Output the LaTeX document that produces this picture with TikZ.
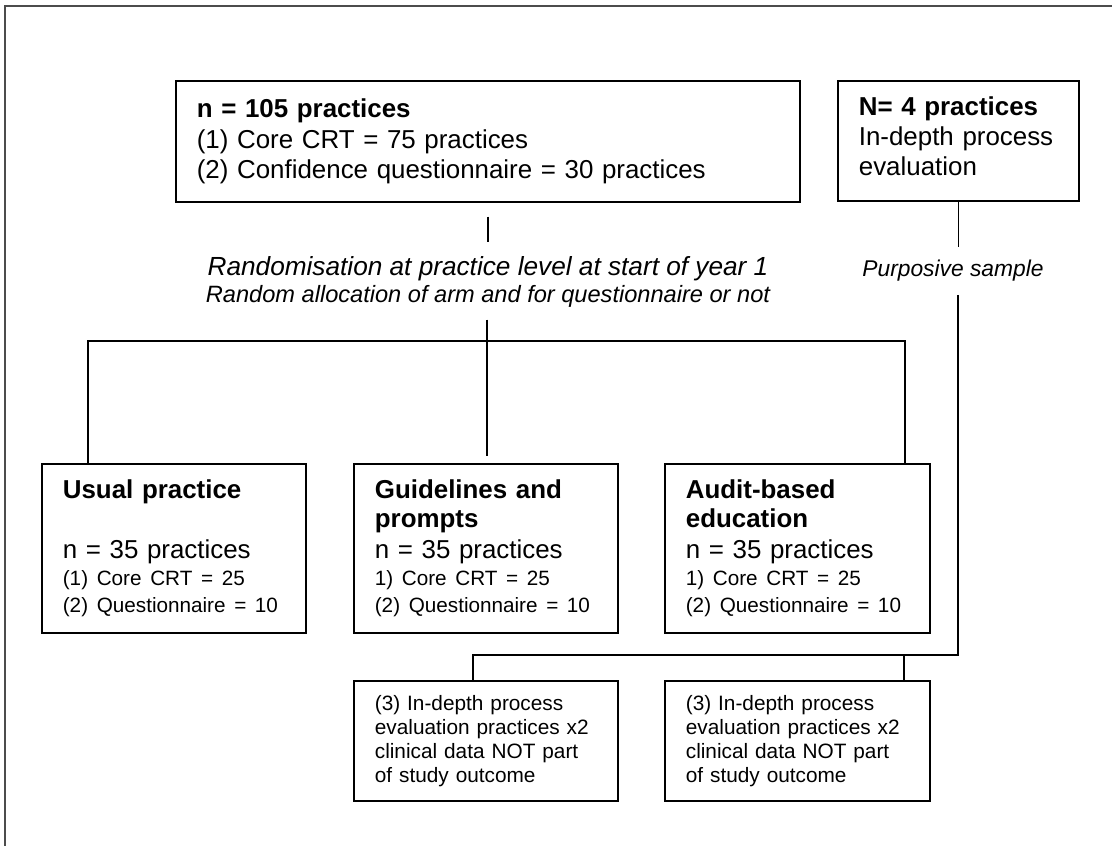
\documentclass[tikz,border=0pt]{standalone}
\usepackage{fontspec}
\setmainfont{Liberation Sans}
\newcommand{\bigtxt}{\fontsize{25.9}{30.5}\selectfont}
\newcommand{\armbig}{\fontsize{25.9}{27}\selectfont}
\newcommand{\armsmall}{\fontsize{20.7}{27}\selectfont}
\newcommand{\subtxt}{\fontsize{20.8}{24}\selectfont}
\tikzset{
  box/.style={draw, line width=1.7pt, align=left, inner xsep=21pt, inner ysep=0pt, anchor=north west},
  link/.style={line width=1.7pt}
}
\begin{document}
\begin{tikzpicture}[x=1pt,y=-1pt]
\useasboundingbox (0,0) rectangle (1112,846);
\draw[line width=2.4pt, black!70] (5,860) -- (5,6) -- (1120,6);
\node[box, text width=582pt, minimum height=121pt, font=\bigtxt] (allprac) at (175,80)
  {\textbf{n = 105 practices}\\(1) Core CRT = 75 practices\\(2) Confidence questionnaire = 30 practices};
\node[box, text width=199pt, minimum height=120pt, font=\fontsize{25.9}{30}\selectfont] (indepth) at (837,80)
  {\textbf{N= 4 practices}\\In-depth process\\evaluation\rule[-9pt]{0pt}{9pt}};
\node[inner sep=0pt, align=center, font=\fontsize{26.2}{27}\selectfont\itshape] (rand) at (488,282)
  {Randomisation at practice level at start of year 1\\{\fontsize{23.6}{27}\selectfont Random allocation of arm and for questionnaire or not}};
\node[inner sep=0pt, font=\fontsize{22.8}{27}\selectfont\itshape] (purp) at (953,271) {Purposive sample};
\node[box, text width=222pt, minimum height=169pt, font=\armbig] (usual) at (41,463)
  {\textbf{Usual practice}\\[33pt]n = 35 practices\\\armsmall (1) Core CRT = 25\\(2) Questionnaire = 10};
\node[box, text width=222pt, minimum height=169pt, font=\armbig] (guide) at (353,463)
  {\textbf{Guidelines and}\\[2pt]\textbf{prompts}\\[4pt]n = 35 practices\\\armsmall 1) Core CRT = 25\\(2) Questionnaire = 10};
\node[box, text width=223pt, minimum height=169pt, font=\armbig] (audit) at (664,463)
  {\textbf{Audit-based}\\[2pt]\textbf{education}\\[4pt]n = 35 practices\\\armsmall 1) Core CRT = 25\\(2) Questionnaire = 10};
\node[box, text width=222pt, minimum height=120pt, font=\subtxt] (procL) at (353,680)
  {(3) In-depth process\\evaluation practices x2\\clinical data NOT part\\of study outcome};
\node[box, text width=223pt, minimum height=120pt, font=\subtxt] (procR) at (664,680)
  {(3) In-depth process\\evaluation practices x2\\clinical data NOT part\\of study outcome};
\coordinate (split) at (487,341);
\coordinate (armL) at (88,341);
\coordinate (armR) at (905,341);
\coordinate (pjoin) at (958,655);
\coordinate (subL) at (473,655);
\coordinate (subR) at (904,655);
\draw[link, shorten <=14pt, shorten >=14.6pt] (allprac.south) -- (allprac.south |- rand.north);
\draw[link, shorten <=12pt] (split |- rand.south) -- (split);
\draw[link] (armL |- usual.north) -- (armL) -- (armR) -- (armR |- audit.north);
\draw[link, shorten >=7pt] (split) -- (split |- guide.north);
\draw[link, shorten >=13pt] (indepth.south) -- (indepth.south |- purp.north);
\draw[link, shorten <=13pt] (pjoin |- purp.south) -- (pjoin) -- (subL) -- (subL |- procL.north);
\draw[link] (subR) -- (subR |- procR.north);
\end{tikzpicture}
\end{document}
